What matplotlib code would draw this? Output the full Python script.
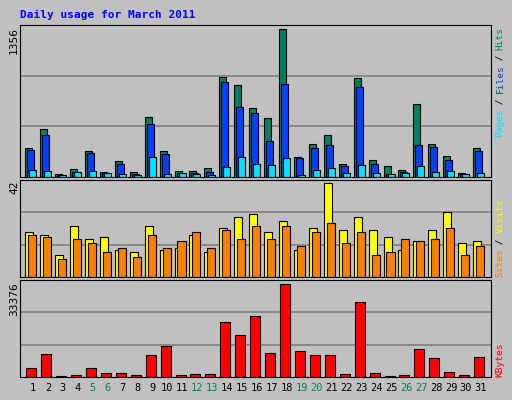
import matplotlib.pyplot as plt
import numpy as np

days = list(range(1, 32))
weekend = [5, 6, 12, 13, 19, 20, 26, 27]

hits = [270, 445, 31, 77, 242, 49, 150, 49, 555, 242, 58, 58, 86, 914, 840, 629,
        537, 1356, 187, 307, 390, 123, 905, 160, 104, 67, 666, 307, 196, 40, 270]
files = [252, 390, 21, 49, 224, 40, 123, 31, 491, 215, 40, 40, 49, 868, 647, 583,
         334, 850, 178, 270, 298, 104, 822, 123, 31, 49, 298, 279, 160, 31, 242]
pages = [67, 58, 21, 49, 58, 40, 31, 21, 187, 31, 40, 31, 21, 95, 187, 123,
         114, 178, 21, 67, 86, 40, 114, 40, 31, 40, 104, 49, 58, 31, 40]
sites = [20, 19, 10, 23, 17, 18, 12, 11, 23, 12, 13, 19, 11, 22, 27, 28,
         20, 25, 12, 22, 42, 21, 27, 21, 18, 12, 16, 21, 29, 15, 16]
visits = [19, 18, 8, 17, 15, 11, 13, 9, 19, 13, 16, 20, 13, 21, 17, 23,
          17, 23, 14, 20, 24, 15, 20, 10, 11, 17, 16, 17, 22, 10, 14]
kbytes = [3410, 8160, 490, 850, 3410, 1580, 1580, 850, 7800, 11080, 850, 1220, 1220,
          19850, 15100, 22050, 8530, 33376, 9260, 7800, 7800, 1220, 27160, 1580,
          490, 850, 9990, 6700, 1950, 850, 7060]

W, H = 512, 400
BG = '#c0c0c0'
GREEN = '#00805c'
MONO = 'DejaVu Sans Mono'

fig = plt.figure(figsize=(W / 100, H / 100), dpi=100, facecolor=BG)
x = np.array(days)


def make_ax(top, bottom, ymax):
    ax = fig.add_axes([20 / W, 1 - bottom / H, 471 / W, (bottom - top) / H])
    ax.set_facecolor(BG)
    ax.set_xlim(0.13, 31.68)
    ax.set_ylim(0, ymax)
    for f in (1 / 3, 2 / 3):
        ax.axhline(ymax * f, color='#808080', lw=1.2, zorder=0)
    ax.set_xticks([])
    ax.set_yticks([])
    for s in ax.spines.values():
        s.set_color('black')
    return ax


ax1 = make_ax(25, 177, 1395)
ax1.bar(x - 0.285, hits, width=0.47, color=GREEN, edgecolor='black', lw=0.8)
ax1.bar(x - 0.15, files, width=0.47, color='#0040ff', edgecolor='black', lw=0.8)
ax1.bar(x - 0.015, pages, width=0.47, color='#00e0ff', edgecolor='black', lw=0.8)

ax2 = make_ax(180, 277, 43.4)
ax2.bar(x - 0.25, sites, width=0.54, color='#ffff00', edgecolor='black', lw=0.8)
ax2.bar(x - 0.05, visits, width=0.54, color='#ff8000', edgecolor='black', lw=0.8)

ax3 = make_ax(280, 377, 34950)
ax3.bar(x - 0.115, kbytes, width=0.67, color='#ff0000', edgecolor='black', lw=0.8)

# title and left max labels
fig.text(20 / W, 1 - 15 / H, 'Daily usage for March 2011', color='#0000ff',
         fontsize=8, fontweight='bold', family=MONO, va='center')
for val, top in [('1356', 27), ('42', 181), ('33376', 282)]:
    fig.text(14 / W, 1 - top / H, val, rotation=90, fontsize=8, family=MONO,
             ha='center', va='top')

# right side labels, bottom to top
cw = 5.45


def side_label(bottom, parts):
    pos = 0
    for txt, col in parts:
        fig.text(500 / W, 1 - (bottom - pos * cw) / H, txt, rotation=90, color=col,
                 fontsize=6.8, family=MONO, ha='center', va='bottom')
        pos += len(txt)


side_label(137, [('Pages', '#00e0ff'), (' / ', 'black'), ('Files', '#0040ff'),
                 (' / ', 'black'), ('Hits', GREEN)])
side_label(277, [('Sites', '#ff8000'), (' / ', 'black'), ('Visits', '#ffff00')])
side_label(377, [('KBytes', '#ff0000')])

# day labels
for d in days:
    px = 33 + (d - 1) * 14.93
    fig.text(px / W, 1 - 388 / H, str(d), ha='center', va='center', fontsize=7.5,
             family=MONO, color=GREEN if d in weekend else 'black')

fig.savefig('out.png', dpi=100, facecolor=BG)
